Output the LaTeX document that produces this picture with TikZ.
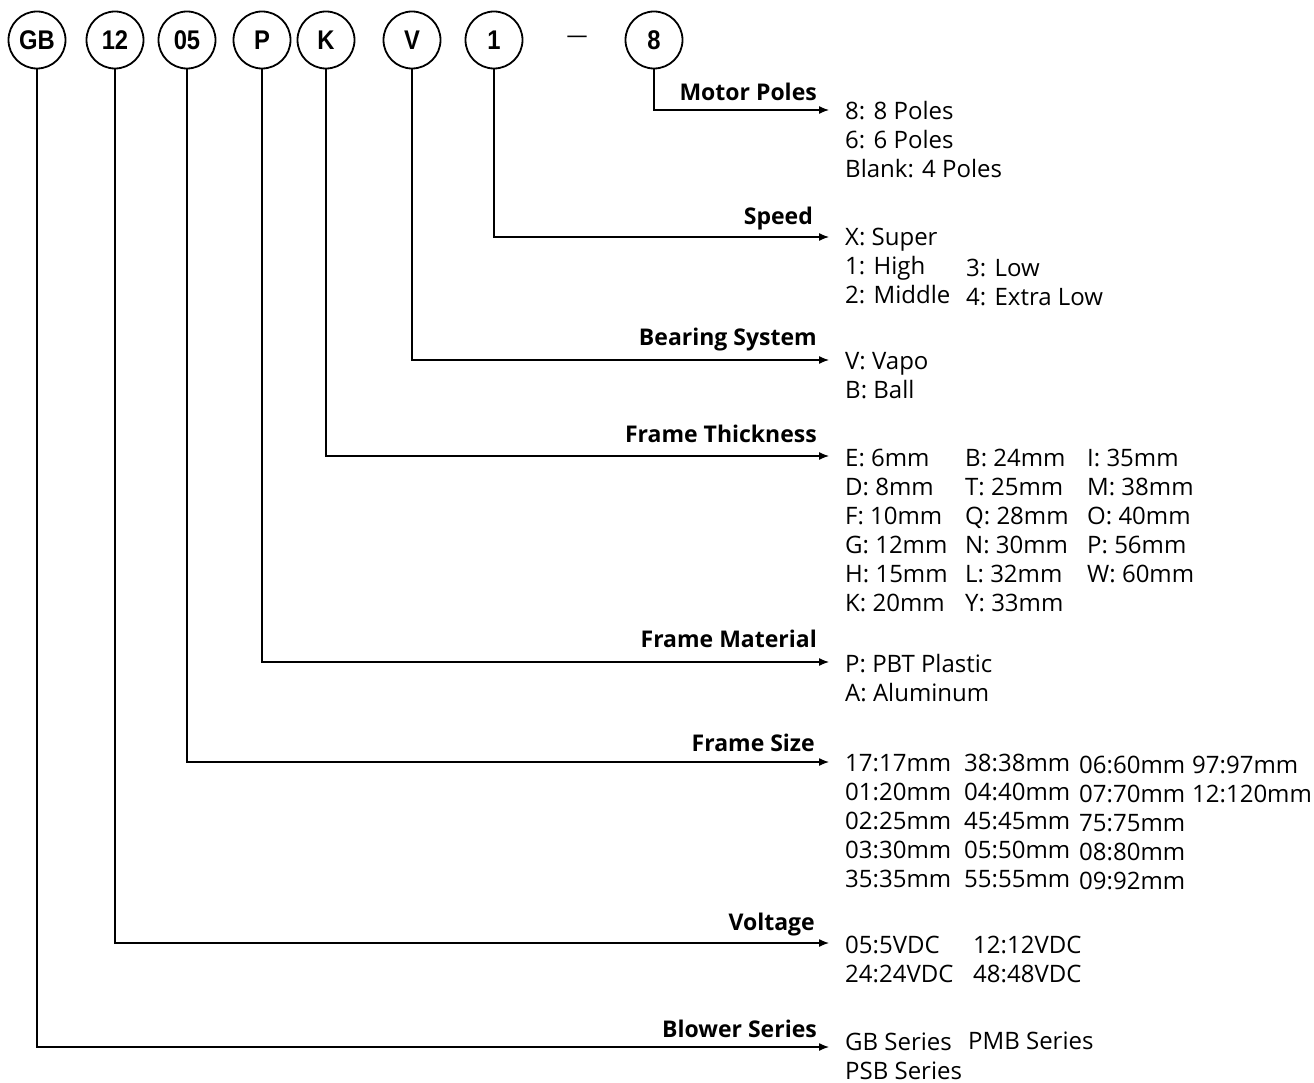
\documentclass[tikz,border=0pt]{standalone}
\usepackage{fontspec}
\setmainfont{Open Sans}
\newfontfamily\codefont[FakeStretch=0.88]{Liberation Sans}
\usetikzlibrary{arrows.meta, positioning, calc}
\tikzset{
  code/.style  = {draw, circle, line width=1.8pt, minimum size=57pt, inner sep=0pt,
                  font=\codefont\fontsize{27}{27}\selectfont\bfseries},
  head/.style  = {anchor=base east, inner sep=0pt,
                  font=\fontsize{23}{23}\selectfont\bfseries},
  opts/.style  = {anchor=north west, inner sep=0pt, align=left, yshift=16.8pt,
                  font=\fontsize{24}{29}\selectfont, execute at begin node=\strut},
  arr/.style   = {-{Latex[length=10pt, width=8pt]}, line width=1.3pt},
}

\begin{document}
\begin{tikzpicture}[x=1pt, y=-1pt]
\useasboundingbox (0,0) rectangle (1314,1083);

%% ── code circles ────────────────────────────────────────────────────────────
\node[code] (cGB) at (37,40)  {GB};
\node[code] (c12) at (115,40) {12};
\node[code] (c05) at (187,40) {05};
\node[code] (cP)  at (262,40) {P};
\node[code] (cK)  at (326,40) {K};
\node[code] (cV)  at (412,40) {V};
\node[code] (c1)  at (494,40) {1};
\node[font=\fontsize{21}{21}\selectfont, inner sep=0pt] (dash) at (577,39) {—};
\node[code] (c8)  at (654,40) {8};

%% ── arrow ends ──────────────────────────────────────────────────────────────
\coordinate (e8)  at (829,110);
\coordinate (e1)  at (829,237);
\coordinate (eV)  at (829,360);
\coordinate (eK)  at (829,456);
\coordinate (eP)  at (829,662);
\coordinate (e05) at (829,762);
\coordinate (e12) at (829,943);
\coordinate (eGB) at (829,1047);

%% ── headings ────────────────────────────────────────────────────────────────
\node[head] (hPoles)  at (817,101)  {Motor Poles};
\node[head] (hSpeed)  at (813,225)  {Speed};
\node[head] (hBear)   at (817,345)  {Bearing System};
\node[head] (hThick)  at (817,442)  {Frame Thickness};
\node[head] (hMat)    at (817,647)  {Frame Material};
\node[head] (hSize)   at (815,751)  {Frame Size};
\node[head] (hVolt)   at (815,930)  {Voltage};
\node[head] (hSeries) at (817,1037) {Blower Series};

%% ── options (first baseline given) ──────────────────────────────────────────
\node[opts] (oPoles) at (845,118) {8: 8 Poles\\6: 6 Poles\\Blank: 4 Poles};

\node[opts] (oSpeedA) at (845,245) {X: Super\\1: High\\2: Middle};
\node[opts] (oSpeedB) at (966,276) {3: Low\\4: Extra Low};

\node[opts] (oBear) at (845,369) {V: Vapo\\B: Ball};

\node[opts] (oThickA) at (845,466)
  {E: 6mm\\D: 8mm\\F: 10mm\\G: 12mm\\H: 15mm\\K: 20mm};
\node[opts] (oThickB) at (965,466)
  {B: 24mm\\T: 25mm\\Q: 28mm\\N: 30mm\\L: 32mm\\Y: 33mm};
\node[opts] (oThickC) at (1087,466)
  {I: 35mm\\M: 38mm\\O: 40mm\\P: 56mm\\W: 60mm};

\node[opts] (oMat) at (845,671) {P: PBT Plastic\\A: Aluminum};

\node[opts] (oSizeA) at (845,771)
  {17:17mm\\01:20mm\\02:25mm\\03:30mm\\35:35mm};
\node[opts] (oSizeB) at (964,771)
  {38:38mm\\04:40mm\\45:45mm\\05:50mm\\55:55mm};
\node[opts] (oSizeC) at (1079,773)
  {06:60mm\\07:70mm\\75:75mm\\08:80mm\\09:92mm};
\node[opts] (oSizeD) at (1192,773)
  {97:97mm\\12:120mm};

\node[opts] (oVoltA) at (845,953) {05:5VDC\\24:24VDC};
\node[opts] (oVoltB) at (973,953) {12:12VDC\\48:48VDC};

\node[opts] (oSeriesA) at (845,1049) {GB Series\\PSB Series};
% single line sits lower, lift it to match
\node[opts, yshift=3.5pt] (oSeriesB) at (968,1049) {PMB Series};

%% ── arrows ──────────────────────────────────────────────────────────────────
\draw[arr] (c8.south)  |- (e8);
\draw[arr] (c1.south)  |- (e1);
\draw[arr] (cV.south)  |- (eV);
\draw[arr] (cK.south)  |- (eK);
\draw[arr] (cP.south)  |- (eP);
\draw[arr] (c05.south) |- (e05);
\draw[arr] (c12.south) |- (e12);
\draw[arr] (cGB.south) |- (eGB);

\end{tikzpicture}
\end{document}
